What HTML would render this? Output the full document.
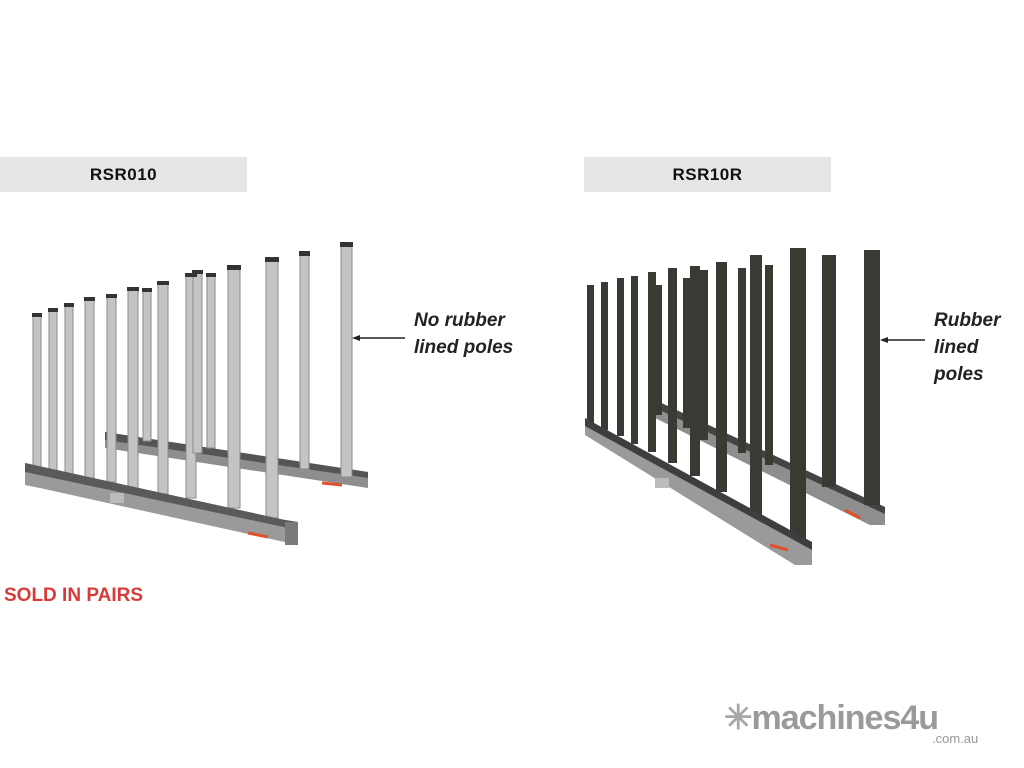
<!DOCTYPE html>
<html><head><meta charset="utf-8"><style>
html,body{margin:0;padding:0;background:#fff;width:1024px;height:768px;overflow:hidden;font-family:"Liberation Sans",sans-serif}
.lbl{position:absolute;background:#e6e6e6;height:35px;line-height:35px;text-align:center;font-weight:bold;font-size:17px;color:#111;letter-spacing:0.5px}
.ann{position:absolute;font-style:italic;font-weight:bold;font-size:19px;line-height:27px;color:#222}
</style></head><body>
<div class="lbl" style="left:0;top:157px;width:247px">RSR010</div>
<div class="lbl" style="left:584px;top:157px;width:247px">RSR10R</div>
<div class="ann" style="left:414px;top:307px">No rubber<br>lined poles</div>
<div class="ann" style="left:934px;top:307px">Rubber<br>lined<br>poles</div>
<div style="position:absolute;left:4px;top:585px;font-weight:bold;font-size:19px;color:#d83a3a">SOLD IN PAIRS</div>
<div style="position:absolute;left:724px;top:698px;font-size:34px;font-weight:bold;color:#9a9a9a;letter-spacing:-1px"><span style="color:#a8a8a8">✳</span>machines4u</div>
<div style="position:absolute;left:932px;top:731px;font-size:13px;color:#999">.com.au</div>
<svg width="1024" height="768" style="position:absolute;left:0;top:0">
<g>
<polygon points="105,432 355,470 368,472 368,488 118,450 105,448" fill="#8e8e8e"/>
<polygon points="105,432 355,470 368,472 368,478 105,440" fill="#555"/>
<g fill="#c4c4c4" stroke="#8a8a8a" stroke-width="1">
<rect x="33" y="316" width="8" height="152"/><rect x="49" y="311" width="8" height="160"/>
<rect x="65" y="306" width="8" height="168"/><rect x="85" y="300" width="9" height="178"/>
<rect x="107" y="297" width="9" height="185"/><rect x="128" y="290" width="10" height="198"/>
<rect x="143" y="291" width="8" height="150"/><rect x="158" y="284" width="10" height="210"/>
<rect x="186" y="276" width="10" height="222"/><rect x="193" y="273" width="9" height="180"/>
<rect x="207" y="276" width="8" height="172"/><rect x="228" y="268" width="12" height="240"/>
<rect x="266" y="260" width="12" height="258"/><rect x="300" y="254" width="9" height="215"/>
<rect x="341" y="245" width="11" height="232"/>
</g>
<g fill="#333">
<rect x="32" y="313" width="10" height="4"/><rect x="48" y="308" width="10" height="4"/>
<rect x="64" y="303" width="10" height="4"/><rect x="84" y="297" width="11" height="4"/>
<rect x="106" y="294" width="11" height="4"/><rect x="127" y="287" width="12" height="4"/>
<rect x="142" y="288" width="10" height="4"/><rect x="157" y="281" width="12" height="4"/>
<rect x="185" y="273" width="12" height="4"/><rect x="192" y="270" width="11" height="4"/>
<rect x="206" y="273" width="10" height="4"/><rect x="227" y="265" width="14" height="5"/>
<rect x="265" y="257" width="14" height="5"/><rect x="299" y="251" width="11" height="5"/>
<rect x="340" y="242" width="13" height="5"/>
</g>
<polygon points="25,463 285,520 298,522 298,545 40,488 25,485" fill="#9a9a9a"/>
<polygon points="25,463 285,520 298,522 298,530 25,472" fill="#5a5a5a"/>
<polygon points="285,522 298,522 298,545 285,545" fill="#7a7a7a"/>
<path d="M248,533 l20,4" stroke="#e0502a" stroke-width="3"/><path d="M322,483 l20,2" stroke="#e0502a" stroke-width="3"/>
<rect x="110" y="493" width="14" height="10" fill="#bbb"/>
</g>
<line x1="354" y1="338" x2="405" y2="338" stroke="#222" stroke-width="1.5"/>
<polygon points="352,338 360,335 360,341" fill="#222"/>
<g>
<polygon points="655,400 870,505 885,507 885,525 870,525 655,418" fill="#8e8e8e"/>
<polygon points="655,400 885,507 885,514 655,408" fill="#444"/>
<g fill="#3a3a35">
<rect x="587" y="285" width="7" height="138"/><rect x="601" y="282" width="7" height="148"/>
<rect x="617" y="278" width="7" height="158"/><rect x="631" y="276" width="7" height="168"/>
<rect x="648" y="272" width="8" height="180"/><rect x="655" y="285" width="7" height="130"/>
<rect x="668" y="268" width="9" height="195"/><rect x="683" y="278" width="7" height="150"/>
<rect x="690" y="266" width="10" height="210"/><rect x="700" y="270" width="8" height="170"/>
<rect x="716" y="262" width="11" height="230"/><rect x="738" y="268" width="8" height="185"/>
<rect x="750" y="255" width="12" height="260"/><rect x="765" y="265" width="8" height="200"/>
<rect x="790" y="248" width="16" height="292"/><rect x="822" y="255" width="14" height="232"/>
<rect x="864" y="250" width="16" height="255"/>
</g>
<polygon points="585,418 795,540 812,542 812,565 795,565 585,435" fill="#9a9a9a"/>
<polygon points="585,418 812,542 812,550 585,426" fill="#3e3e3e"/>
<path d="M770,545 l18,5" stroke="#e0502a" stroke-width="3"/><path d="M845,510 l15,8" stroke="#e0502a" stroke-width="3"/>
<rect x="655" y="478" width="14" height="10" fill="#bbb"/>
</g>
<line x1="882" y1="340" x2="925" y2="340" stroke="#222" stroke-width="1.5"/>
<polygon points="880,340 888,337 888,343" fill="#222"/>
</svg>
</body></html>
